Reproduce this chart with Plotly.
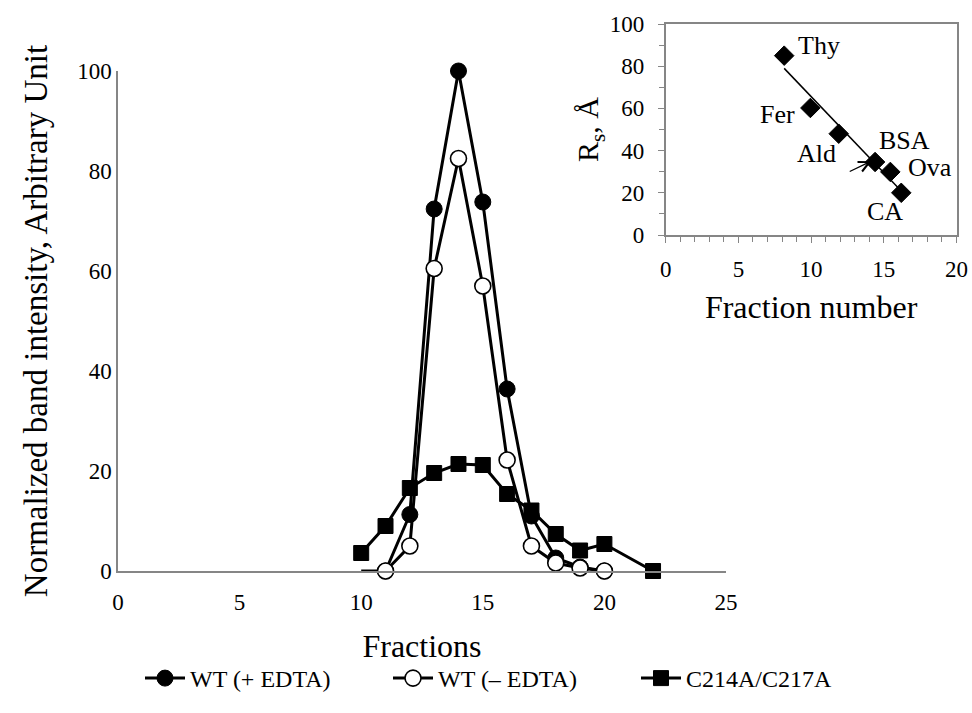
import numpy as np
import plotly.graph_objects as go

# ---- main chart data ----
frac_wt_plus = [10, 11, 12, 13, 14, 15, 16, 17, 18, 19, 20]
wt_plus = [0, 0, 11.3, 72.4, 100, 73.8, 36.4, 11, 2.6, 0.8, 0]

frac_wt_minus = [11, 12, 13, 14, 15, 16, 17, 18, 19, 20]
wt_minus = [0, 5, 60.5, 82.5, 57, 22.2, 5, 1.6, 0.6, 0]

frac_mut = [10, 11, 12, 13, 14, 15, 16, 17, 18, 19, 20, 22]
mut = [3.6, 9, 16.6, 19.6, 21.4, 21.2, 15.4, 12.1, 7.4, 4.1, 5.4, 0]

# ---- inset (calibration) data ----
std_names = ["Thy", "Fer", "Ald", "BSA", "Ova", "CA"]
std_frac = [8.15, 9.95, 11.9, 14.4, 15.45, 16.2]
std_rs = [85, 60.2, 48, 34.6, 29.9, 20]

FONT = "Liberation Serif"
AX = "#868686"

fig = go.Figure()

# leading segment of WT (+ EDTA) (first fraction drawn without a marker)
fig.add_trace(go.Scatter(
    x=frac_wt_plus[:2], y=wt_plus[:2], mode="lines", showlegend=False,
    line=dict(color="black", width=3), xaxis="x", yaxis="y", cliponaxis=False))
fig.add_trace(go.Scatter(
    x=frac_wt_plus[1:], y=wt_plus[1:], mode="lines+markers", name="WT (+ EDTA)",
    line=dict(color="black", width=3), cliponaxis=False,
    marker=dict(symbol="circle", color="#000000", size=16, opacity=1,
                line=dict(color="#000000", width=1)),
    xaxis="x", yaxis="y"))
fig.add_trace(go.Scatter(
    x=frac_wt_minus, y=wt_minus, mode="lines+markers", name="WT (\u2013 EDTA)",
    line=dict(color="black", width=3), cliponaxis=False,
    marker=dict(symbol="circle", color="white", size=16, line=dict(color="black", width=1.6)),
    xaxis="x", yaxis="y"))
fig.add_trace(go.Scatter(
    x=frac_mut, y=mut, mode="lines+markers", name="C214A/C217A",
    line=dict(color="black", width=3), cliponaxis=False,
    marker=dict(symbol="square", color="#000000", size=15, line=dict(color="#000000", width=1)),
    xaxis="x", yaxis="y"))

# inset: regression line and standards
slope, intercept = np.polyfit(std_frac, std_rs, 1)
xfit = np.array([min(std_frac), max(std_frac)])
fig.add_trace(go.Scatter(
    x=xfit, y=slope * xfit + intercept, mode="lines", showlegend=False,
    line=dict(color="black", width=1.5), xaxis="x2", yaxis="y2"))
fig.add_trace(go.Scatter(
    x=std_frac, y=std_rs, mode="markers", showlegend=False, cliponaxis=False,
    marker=dict(symbol="diamond", color="#000000", size=15, line=dict(color="#000000", width=1)),
    xaxis="x2", yaxis="y2"))

# labels for standards (positions in data units of the inset)
label_pos = {"Thy": (10.55, 90), "Fer": (7.7, 57), "Ald": (10.4, 38.5),
             "BSA": (16.4, 45), "Ova": (18.15, 32.2), "CA": (15.1, 11)}
for n in std_names:
    lx, ly = label_pos[n]
    fig.add_annotation(x=lx, y=ly, xref="x2", yref="y2", text=n, showarrow=False,
                       font=dict(family=FONT, size=26, color="black"))

# arrow to the sample position
fig.add_annotation(x=14.15, y=35, xref="x2", yref="y2", ax=12.45, ay=29.4,
                   axref="x2", ayref="y2", showarrow=True, arrowhead=5,
                   arrowwidth=1.3, arrowsize=1.6, arrowcolor="black", text=" ")

fig.update_layout(
    width=972, height=713,
    margin=dict(l=0, r=0, t=0, b=0),
    paper_bgcolor="white", plot_bgcolor="white",
    font=dict(family=FONT, color="black"),
    xaxis=dict(domain=[118 / 972, 726 / 972], range=[0, 25], dtick=5, automargin=False,
               showgrid=False, zeroline=False, showline=True, linecolor=AX, linewidth=1.5,
               ticks="", tickfont=dict(size=23, family=FONT), ticklabelstandoff=10,
               title=dict(text="Fractions", font=dict(size=32, family=FONT), standoff=20),
               anchor="y"),
    yaxis=dict(domain=[1 - 571 / 713, 1 - 71 / 713], range=[0, 100], dtick=20, automargin=False,
               showgrid=False, zeroline=False, showline=True, linecolor=AX, linewidth=1.5,
               ticks="", tickfont=dict(size=23, family=FONT),
               title=dict(text="Normalized band intensity, Arbitrary Unit",
                          font=dict(size=33, family=FONT), standoff=20),
               anchor="x"),
    xaxis2=dict(domain=[665.7 / 972, 956.5 / 972], range=[0, 20], dtick=5, automargin=False,
                showgrid=False, zeroline=False, showline=True, mirror=True,
                linecolor=AX, linewidth=1.5, ticks="outside", ticklen=6, tickcolor=AX,
                minor=dict(dtick=1, ticks="outside", ticklen=5, tickcolor=AX),
                tickfont=dict(size=23, family=FONT), ticklabelstandoff=7,
                title=dict(text="Fraction number", font=dict(size=32, family=FONT), standoff=14),
                anchor="y2"),
    yaxis2=dict(domain=[1 - 235 / 713, 1 - 24 / 713], range=[0, 100], dtick=20, automargin=False,
                showgrid=False, zeroline=False, showline=True, mirror=True,
                linecolor=AX, linewidth=1.5, ticks="outside", ticklen=6, tickcolor=AX,
                minor=dict(dtick=10, ticks="outside", ticklen=5, tickcolor=AX),
                tickfont=dict(size=23, family=FONT), ticklabelstandoff=9,
                title=dict(text="R<sub>s</sub>, \u00c5", font=dict(size=30, family=FONT), standoff=2),
                anchor="x2"),
    legend=dict(orientation="h", x=140 / 972, y=1 - 656 / 713, xanchor="left", yanchor="top",
                font=dict(size=24, family=FONT), entrywidth=193, entrywidthmode="pixels",
                itemwidth=40, bgcolor="rgba(0,0,0,0)"),
)

fig.write_html("out.html")
